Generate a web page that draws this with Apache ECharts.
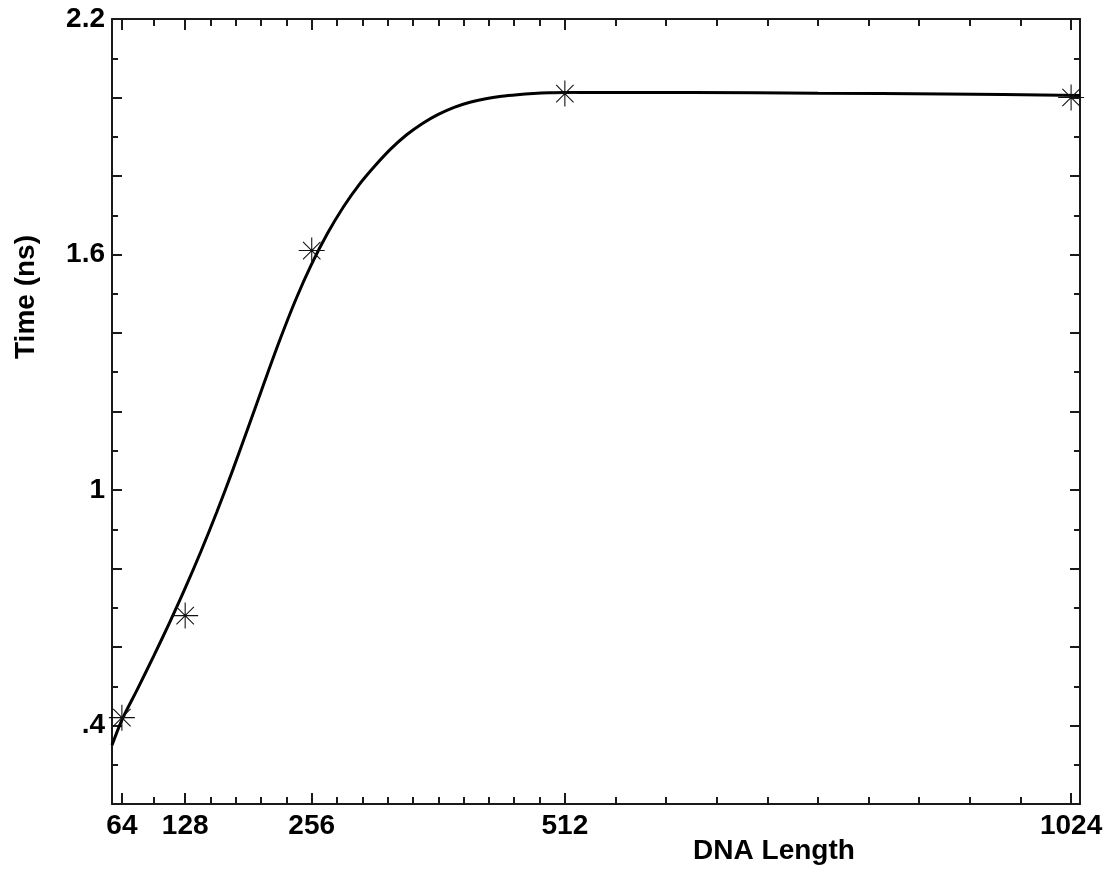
<!DOCTYPE html>
<html>
<head>
<meta charset="utf-8">
<script src="https://cdn.jsdelivr.net/npm/echarts@6/dist/echarts.min.js"></script>
<style>
  html, body { margin: 0; padding: 0; background: #fff; }
  #chart { width: 1107px; height: 869px; }
</style>
</head>
<body>
<div id="chart"></div>
<script>
// Measured times (ns) for each DNA length
const dnaLength = [64, 128, 256, 512, 1024];
const timeNs = [0.42, 0.68, 1.61, 2.01, 2.00];

// Fitted curve through the measurements
const fitLength = [54, 64, 80, 96, 112, 128, 144, 160, 176, 192, 208, 224, 240, 256, 272, 288, 304, 320,
                   336, 352, 368, 384, 400, 416, 432, 448, 464, 480, 496, 512, 640, 768, 896, 1033];
const fitTime = [0.350, 0.414, 0.494, 0.576, 0.661, 0.750, 0.844, 0.944, 1.050, 1.161, 1.274, 1.384, 1.486, 1.576, 1.654, 1.721, 1.778, 1.826,
                 1.869, 1.905, 1.934, 1.957, 1.975, 1.988, 1.997, 2.003, 2.007, 2.010, 2.012, 2.013, 2.013, 2.011, 2.009, 2.005];

// Tick positions
const xMajorTicks = [64, 128, 256, 512, 1024];
const xMinorTicks = [96, 153.6, 179.2, 204.8, 230.4, 281.6, 307.2, 332.8, 358.4, 384, 409.6, 435.2, 460.8, 486.4,
                     563.2, 614.4, 665.6, 716.8, 768, 819.2, 870.4, 921.6, 972.8];
const yLabelTicks = [0.4, 1.0, 1.6, 2.2];
const yMajorTicks = [0.2, 0.4, 0.6, 0.8, 1.0, 1.2, 1.4, 1.6, 1.8, 2.0, 2.2];
const yMinorTicks = [0.3, 0.5, 0.7, 0.9, 1.1, 1.3, 1.5, 1.7, 1.9, 2.1];

const X_MIN = 54, X_MAX = 1033, Y_MIN = 0.2, Y_MAX = 2.2;
const FONT = '"Liberation Sans", Arial, Helvetica, sans-serif';
const INK = '#1a1a1a';

const labelStyle = { color: '#000', fontSize: 28, fontWeight: 'bold', fontFamily: FONT };

function xAxis(position, ticks, len, withLabels, withLine) {
  return {
    type: 'value', min: X_MIN, max: X_MAX, position: position,
    axisLine: { show: withLine, onZero: false, lineStyle: { color: INK, width: 2 } },
    axisTick: { show: true, inside: true, length: len, customValues: ticks, lineStyle: { color: INK, width: 2 } },
    axisLabel: withLabels ? Object.assign({
      show: true, customValues: xMajorTicks, margin: 8,
      formatter: v => String(Math.round(v))
    }, labelStyle) : { show: false },
    splitLine: { show: false }
  };
}

function yAxis(position, ticks, len, withLabels, withLine) {
  return {
    type: 'value', min: Y_MIN, max: Y_MAX, position: position,
    axisLine: { show: withLine, onZero: false, lineStyle: { color: INK, width: 2 } },
    axisTick: { show: true, inside: true, length: len, customValues: ticks, lineStyle: { color: INK, width: 2 } },
    axisLabel: withLabels ? Object.assign({
      show: true, customValues: yLabelTicks, margin: 7,
      formatter: v => (v < 1 ? String(+v.toFixed(1)).replace(/^0/, '') : String(+v.toFixed(1)))
    }, labelStyle) : { show: false },
    splitLine: { show: false }
  };
}

// Eight-armed asterisk marker with a small centre dot
const asterisk = 'path://M0 11.5H24V12.5H0Z M11.5 0H12.5V24H11.5Z ' +
  'M3.6 4.3L4.3 3.6L20.4 19.7L19.7 20.4Z M19.7 3.6L20.4 4.3L4.3 20.4L3.6 19.7Z ' +
  'M10.6 10.6H13.4V13.4H10.6Z';

const chart = echarts.init(document.getElementById('chart'), null, { renderer: 'canvas' });
chart.setOption({
  backgroundColor: '#fff',
  animation: false,
  grid: { left: 112, right: 27, top: 19, bottom: 65, containLabel: false },
  xAxis: [
    xAxis('bottom', xMajorTicks, 11, true, true),
    xAxis('bottom', xMinorTicks, 7, false, false),
    xAxis('top', xMajorTicks, 11, false, true),
    xAxis('top', xMinorTicks, 7, false, false)
  ],
  yAxis: [
    yAxis('left', yMajorTicks, 10, true, true),
    yAxis('left', yMinorTicks, 6, false, false),
    yAxis('right', yMajorTicks, 10, false, true),
    yAxis('right', yMinorTicks, 6, false, false)
  ],
  series: [
    {
      type: 'line', xAxisIndex: 0, yAxisIndex: 0,
      data: fitLength.map((x, i) => [x, fitTime[i]]),
      smooth: 0.3, showSymbol: false, symbol: 'none', clip: true,
      lineStyle: { color: '#000', width: 3 }, z: 2
    },
    {
      type: 'scatter', xAxisIndex: 0, yAxisIndex: 0,
      data: dnaLength.map((x, i) => [x, timeNs[i]]),
      symbol: asterisk, symbolSize: 26,
      itemStyle: { color: '#111', opacity: 1 }, z: 3
    }
  ],
  graphic: [
    {
      type: 'text', x: 774, y: 851,
      style: { text: 'DNA Length', font: 'bold 28px ' + FONT, fill: '#000',
               textAlign: 'center', textVerticalAlign: 'middle', align: 'center', verticalAlign: 'middle' }
    },
    {
      type: 'text', x: 26, y: 297, rotation: Math.PI / 2,
      style: { text: 'Time (ns)', font: 'bold 28px ' + FONT, fill: '#000',
               textAlign: 'center', textVerticalAlign: 'middle', align: 'center', verticalAlign: 'middle' }
    }
  ]
});
</script>
</body>
</html>
